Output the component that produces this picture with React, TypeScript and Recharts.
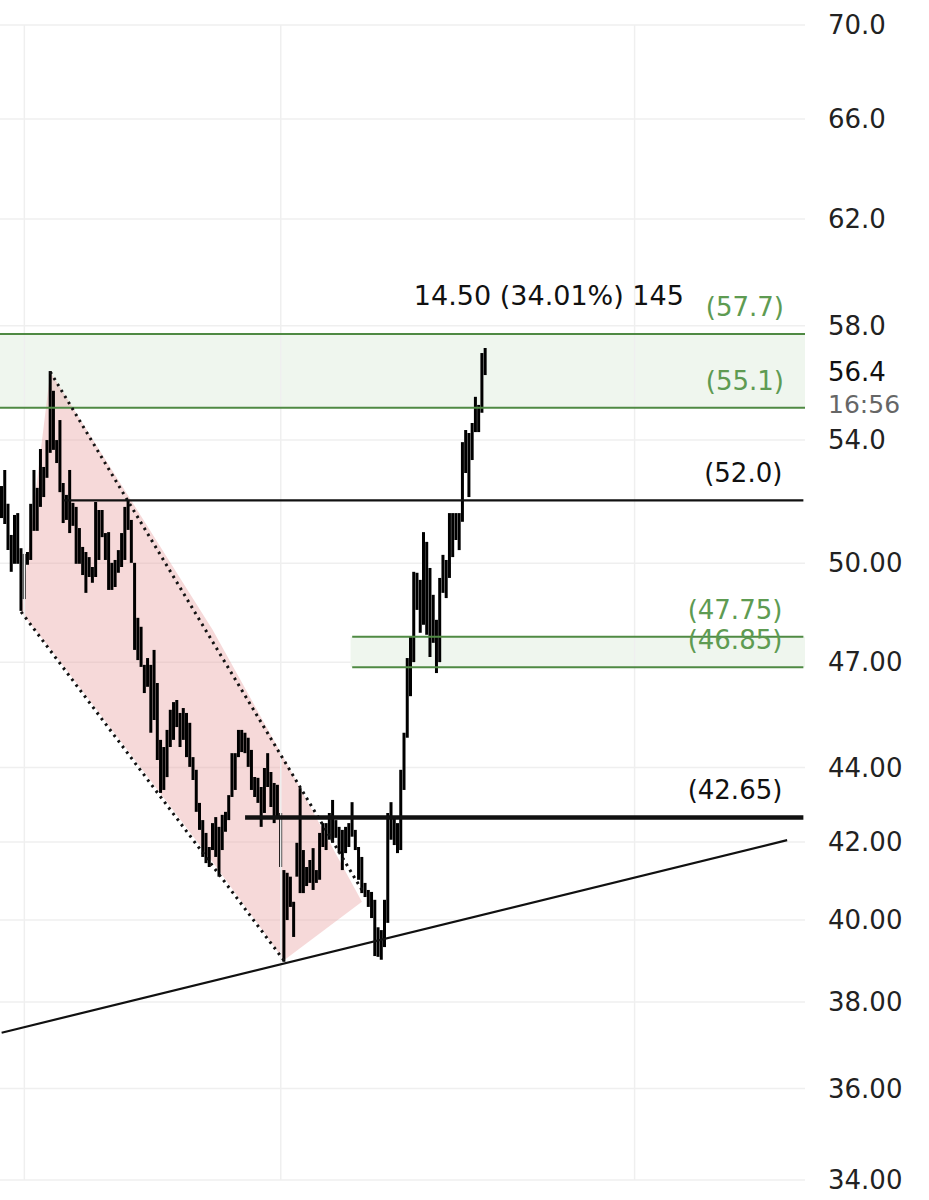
import {
  ComposedChart, Bar, Area, XAxis, YAxis, CartesianGrid,
  ReferenceLine, ReferenceArea, ReferenceDot,
} from 'recharts'

const SLOTS = 248
const FONT = '"DejaVu Sans", sans-serif'

const lows = [
  51.43, 51.24, 50.41, 49.73, 49.98, 49.98, 48.53, 48.89, 49.95, 50.10,
  51.02, 51.02, 51.79, 52.11, 52.74, 53.57, 53.67, 53.23, 52.27, 51.27,
  51.37, 50.95, 51.18, 49.98, 49.98, 49.63, 49.08, 49.57, 49.39, 49.57,
  50.10, 50.82, 50.10, 49.17, 49.17, 49.26, 49.70, 49.88, 50.10, 51.05,
  50.01, 47.36, 47.06, 46.86, 46.10, 46.28, 44.97, 45.33, 44.21, 43.31,
  43.39, 43.74, 44.57, 44.77, 45.13, 44.57, 44.77, 44.29, 44.02, 43.66,
  42.80, 42.32, 41.61, 41.45, 41.35, 41.79, 41.61, 41.10, 41.79, 42.27,
  42.58, 43.20, 43.39, 44.29, 44.43, 44.40, 44.02, 43.39, 43.20, 43.04,
  42.40, 42.77, 43.47, 42.93, 42.50, 42.66, 41.35, 38.97, 40.00, 40.33,
  39.58, 41.10, 40.68, 40.68, 40.86, 40.94, 40.76, 40.94, 41.02, 41.87,
  41.79, 42.06, 41.98, 42.11, 41.71, 41.27, 41.71, 41.87, 42.14, 41.79,
  41.02, 40.68, 40.58, 40.33, 40.05, 39.11, 39.09, 39.02, 39.33, 39.93,
  42.06, 41.92, 41.71, 41.79, 43.39, 44.83, 46.01, 47.00, 48.56, 47.87,
  48.11, 47.81, 47.15, 47.57, 46.68, 47.00, 49.08, 48.92, 49.54, 50.19,
  50.73, 50.41, 51.31, 52.90, 52.11, 53.33, 54.27, 54.27, 54.93, 56.24,
]

const highs = [
  52.47, 53.00, 51.89, 50.89, 51.53, 51.59, 50.47, 50.29, 50.35, 51.89,
  53.00, 52.41, 53.70, 53.10, 54.00, 56.38, 55.69, 54.00, 54.68, 52.57,
  52.18, 53.00, 51.92, 51.79, 51.11, 50.51, 50.35, 50.19, 49.88, 51.95,
  51.69, 51.69, 50.95, 50.98, 50.01, 50.10, 50.41, 50.95, 51.79, 52.02,
  51.37, 50.01, 48.32, 48.05, 46.92, 47.12, 46.92, 47.36, 46.39, 44.77,
  44.57, 45.05, 45.62, 45.84, 45.90, 45.53, 45.67, 45.53, 45.25, 44.29,
  43.94, 43.04, 42.58, 42.24, 41.87, 42.50, 42.66, 42.40, 42.72, 42.80,
  43.25, 44.40, 44.40, 45.05, 45.05, 44.97, 44.83, 44.49, 43.74, 43.72,
  43.47, 43.99, 44.40, 43.88, 43.58, 43.53, 42.77, 41.27, 41.20, 41.10,
  40.46, 41.98, 43.44, 41.79, 41.35, 41.53, 41.84, 41.27, 42.24, 42.50,
  42.50, 42.77, 43.12, 42.58, 42.40, 42.32, 42.40, 42.50, 43.06, 42.32,
  41.87, 41.61, 40.94, 40.76, 40.71, 40.51, 39.82, 39.75, 40.51, 42.77,
  43.06, 42.64, 42.50, 43.94, 44.97, 47.12, 47.75, 49.73, 49.70, 49.48,
  50.98, 50.67, 49.85, 49.02, 48.26, 49.54, 50.26, 50.10, 51.59, 51.59,
  51.59, 51.59, 53.93, 54.34, 54.24, 54.58, 55.48, 55.20, 57.02, 57.20,
]

const yTicks = [34, 36, 38, 40, 42, 44, 47, 50, 54, 58, 62, 66, 70]
const yTickLabels = [
  '34.00', '36.00', '38.00', '40.00', '42.00', '44.00', '47.00', '50.00',
  '54.0', '58.0', '62.0', '66.0', '70.0',
]

// falling channel shading: bar slot, lower edge, upper edge
const channelX = [6, 15, 65, 87, 111]
const channelLo = [48.5, 47.39, 41.48, 39.01, 40.46]
const channelHi = [48.5, 56.35, 47.96, 44.25, 40.46]

// dotted channel borders and the rising support line
const upperDotX = [15, 111]
const upperDotY = [56.35, 40.76]
const lowerDotX = [6, 87]
const lowerDotY = [48.5, 39.0]
const trendX = [0, 242]
const trendY = [37.28, 42.05]

const gridX = [7, 86, 195]

const topZone = [55.1, 57.7]
const midZone = [46.85, 47.75]
const midZoneStart = 108
const level52 = 52.0
const level52Start = 19
const level4265 = 42.65
const level4265Start = 75

const lastPrice = 56.4
const lastTime = '16:56'
const measureText = '14.50 (34.01%) 145'
const measureAt = { x: 127, y: 59.09 }

const GREEN_LINE = '#4f8a43'
const GREEN_TEXT = '#5e9b52'

const data = Array.from({ length: SLOTS }, (_, i) => {
  const k = channelX.indexOf(i)
  return {
    i,
    range: i < lows.length ? [lows[i], highs[i]] : null,
    channel: k >= 0 ? [channelLo[k], channelHi[k]] : null,
  }
})

const levelLabel = (text: string, color: string) => (props: any) => {
  const vb = props.viewBox
  return (
    <text
      x={vb.x + vb.width - 21}
      y={vb.y - 27}
      textAnchor="end"
      dominantBaseline="central"
      fill={color}
      fontSize={26}
      fontFamily={FONT}
    >
      {text}
    </text>
  )
}

const YTick = (props: any) => {
  const { x, y, payload } = props
  const idx = yTicks.indexOf(payload.value)
  return (
    <text x={x} y={y} dominantBaseline="central" textAnchor="start"
      fill="#222" fontSize={26} fontFamily={FONT}>
      {idx >= 0 ? yTickLabels[idx] : ''}
    </text>
  )
}

export default function App() {
  const last = SLOTS - 1
  return (
    <div style={{ position: 'absolute', left: 0, top: 0, width: 929, height: 1200, background: '#fff', fontFamily: FONT }}>
      <ComposedChart width={929} height={1200} data={data}
        margin={{ top: 25, right: 0, bottom: 20, left: 0 }}>
        <CartesianGrid vertical={false} stroke="#efefef" strokeWidth={1.5} />
        <XAxis dataKey="i" hide />
        <YAxis
          orientation="right"
          scale="log"
          domain={[34, 70]}
          ticks={yTicks}
          interval={0}
          allowDataOverflow
          width={124}
          axisLine={false}
          tickLine={false}
          tickSize={0}
          tickMargin={23}
          tick={(p: any) => <YTick {...p} />}
        />
        {gridX.map((x) => (
          <ReferenceLine key={'g' + x} x={x} stroke="#efefef" strokeWidth={1.5} />
        ))}
        <ReferenceArea y1={topZone[0]} y2={topZone[1]} fill="#eff6ee" fillOpacity={1} stroke="none" />
        <ReferenceArea x1={midZoneStart} x2={last} y1={midZone[0]} y2={midZone[1]}
          fill="#eff6ee" fillOpacity={1} stroke="none" />
        <Area
          dataKey="channel"
          type="linear"
          connectNulls
          stroke="none"
          fill="#e8a0a0"
          fillOpacity={0.4}
          dot={false}
          activeDot={false}
          isAnimationActive={false}
        />
        <Bar dataKey="range" fill="#000" barSize={3} isAnimationActive={false} />

        <ReferenceLine y={topZone[1]} stroke={GREEN_LINE} strokeWidth={2}
          label={levelLabel('(57.7)', GREEN_TEXT)} />
        <ReferenceLine y={topZone[0]} stroke={GREEN_LINE} strokeWidth={2}
          label={levelLabel('(55.1)', GREEN_TEXT)} />
        <ReferenceLine segment={[{ x: midZoneStart, y: midZone[1] }, { x: last, y: midZone[1] }]}
          stroke={GREEN_LINE} strokeWidth={2} label={levelLabel('(47.75)', GREEN_TEXT)} />
        <ReferenceLine segment={[{ x: midZoneStart, y: midZone[0] }, { x: last, y: midZone[0] }]}
          stroke={GREEN_LINE} strokeWidth={2} label={levelLabel('(46.85)', GREEN_TEXT)} />
        <ReferenceLine segment={[{ x: level52Start, y: level52 }, { x: last, y: level52 }]}
          stroke="#111" strokeWidth={2.2} label={levelLabel('(52.0)', '#111')} />
        <ReferenceLine segment={[{ x: level4265Start, y: level4265 }, { x: last, y: level4265 }]}
          stroke="#111" strokeWidth={4.5} label={levelLabel('(42.65)', '#111')} />

        <ReferenceLine segment={[{ x: trendX[0], y: trendY[0] }, { x: trendX[1], y: trendY[1] }]}
          stroke="#111" strokeWidth={2.2} />
        <ReferenceLine segment={[{ x: upperDotX[0], y: upperDotY[0] }, { x: upperDotX[1], y: upperDotY[1] }]}
          stroke="#111" strokeWidth={3} strokeDasharray="2.5 4.5" />
        <ReferenceLine segment={[{ x: lowerDotX[0], y: lowerDotY[0] }, { x: lowerDotX[1], y: lowerDotY[1] }]}
          stroke="#111" strokeWidth={3} strokeDasharray="2.5 4.5" />

        <ReferenceLine
          y={lastPrice}
          stroke="none"
          label={(props: any) => {
            const vb = props.viewBox
            const x = vb.x + vb.width + 23
            return (
              <g>
                <text x={x} y={vb.y + 1} dominantBaseline="central" fill="#111" fontSize={26} fontFamily={FONT}>
                  {lastPrice.toFixed(1)}
                </text>
                <text x={x} y={vb.y + 34} dominantBaseline="central" fill="#666" fontSize={25} fontFamily={FONT}>
                  {lastTime}
                </text>
              </g>
            )
          }}
        />
        <ReferenceDot
          x={measureAt.x}
          y={measureAt.y}
          r={0}
          shape={(p: any) => (
            <text x={p.cx} y={p.cy} dominantBaseline="central" fill="#111" fontSize={27} fontFamily={FONT}>
              {measureText}
            </text>
          )}
        />
      </ComposedChart>
    </div>
  )
}
